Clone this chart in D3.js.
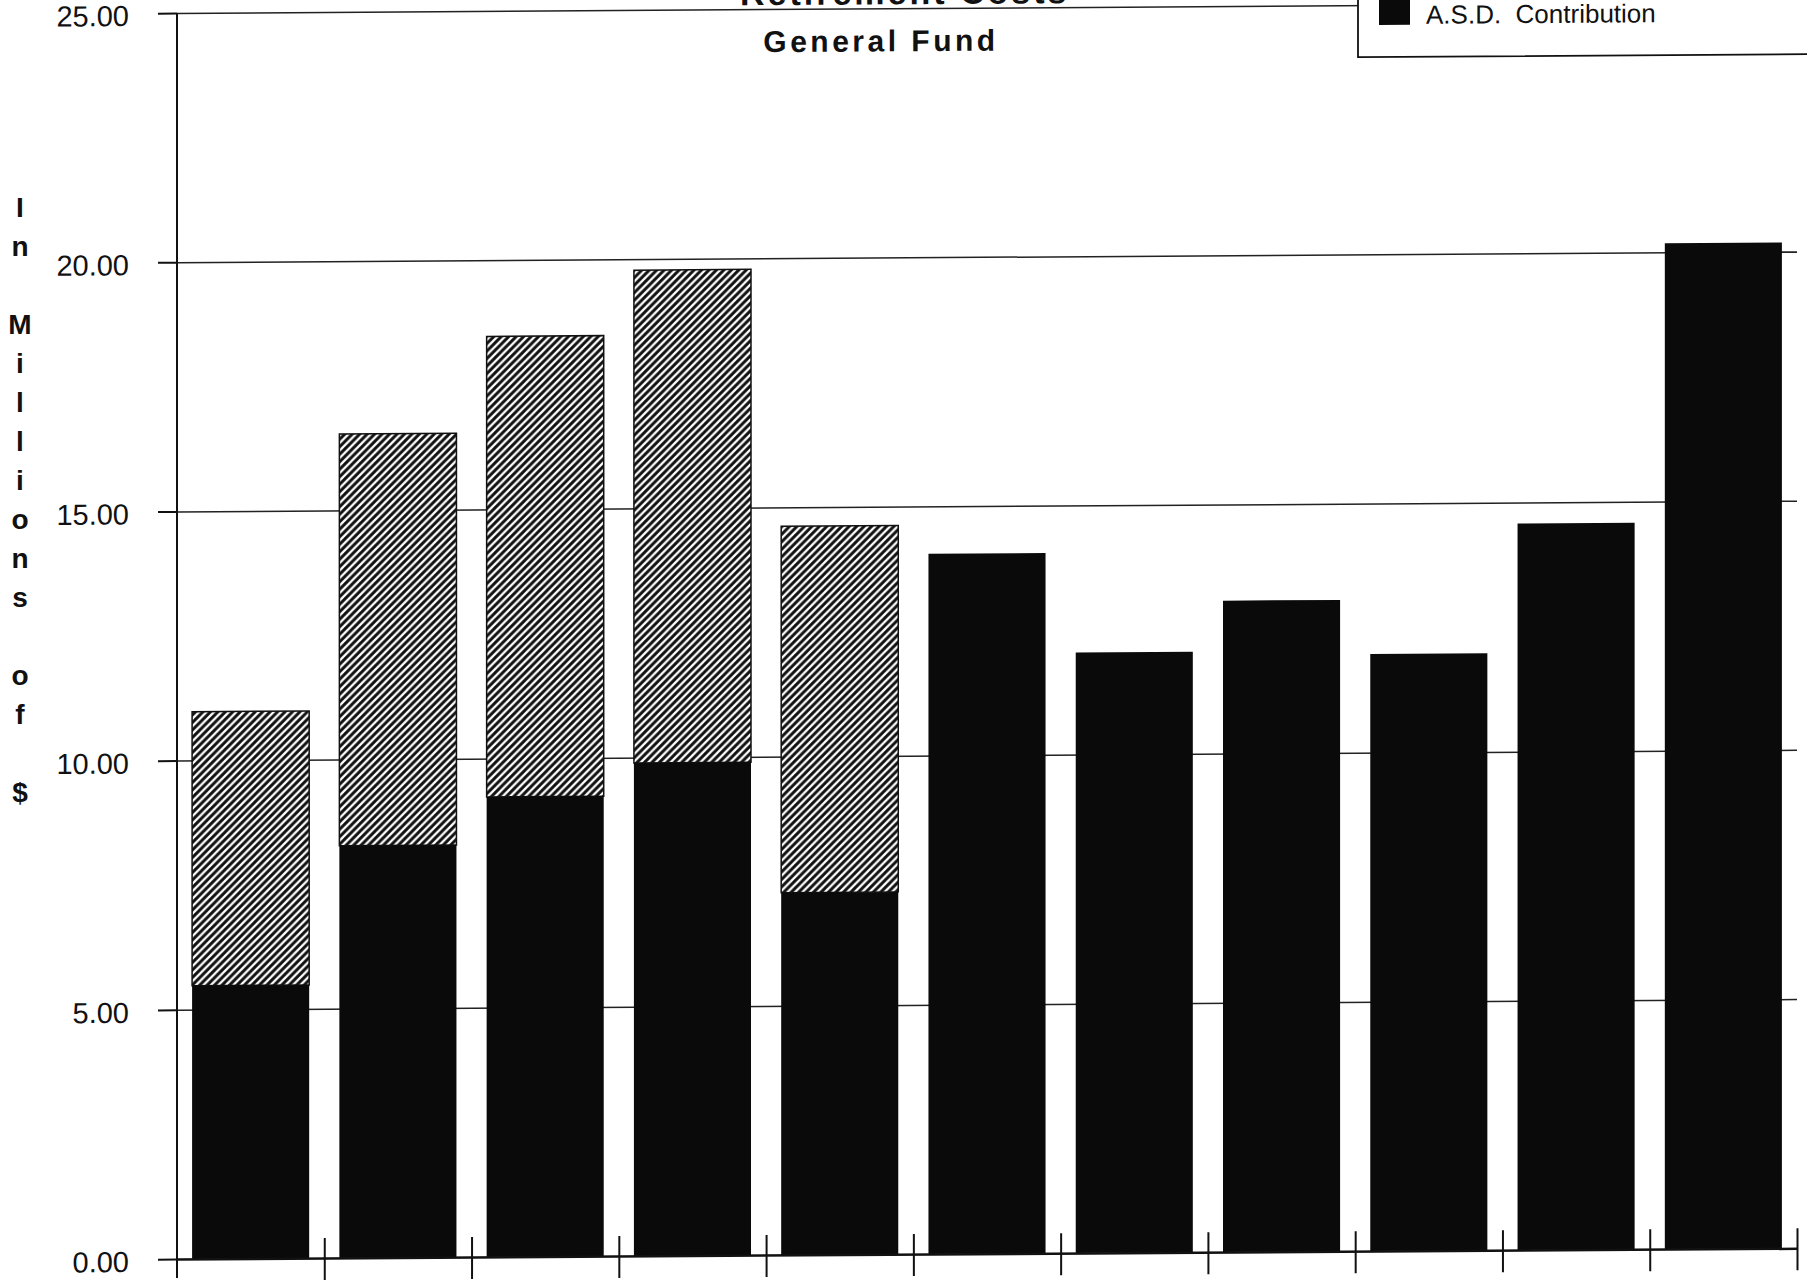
<!DOCTYPE html>
<html lang="en">
<head>
    <meta charset="UTF-8">
    <title>Retirement - General Fund</title>
    <style>
        body { margin: 0; background: #fff; }
        text { font-family: "Liberation Sans", Arial, Helvetica, sans-serif; fill: #111; }
    </style>
</head>
<body>
    <svg id="graph" width="1807" height="1284"></svg>

    <script src="https://cdn.jsdelivr.net/npm/d3@7"></script>
    <script>
        // one bar per year, the x axis has no labels in the original
        const categories = ["1", "2", "3", "4", "5", "6", "7", "8", "9", "10", "11"];
        // in millions of $
        const asdContribution = [5.48, 8.27, 9.23, 9.89, 7.27, 14.05, 12.05, 13.07, 11.98, 14.58, 20.18];
        const otherContribution = [5.50, 8.26, 9.24, 9.89, 7.35, 0, 0, 0, 0, 0, 0];
        const yTicks = [0, 5, 10, 15, 20, 25];
        const yLabel = "In Millions of $";

        const plotLeft = 177;
        const plotRight = 1797;
        const plotBottom = 1259;
        const plotTop = 13;

        const svg = d3.select("#graph");

        // hatch pattern for the upper part of the stacked bars
        const hatch = svg.append("defs").append("pattern")
            .attr("id", "hatch")
            .attr("patternUnits", "userSpaceOnUse")
            .attr("width", 7.5)
            .attr("height", 7.5);
        hatch.append("rect")
            .attr("width", 7.5).attr("height", 7.5)
            .attr("fill", "#fff");
        hatch.append("path")
            .attr("d", "M-1,1 l2,-2 M0,7.5 l7.5,-7.5 M6.5,8.5 l2,-2")
            .attr("stroke", "#111")
            .attr("stroke-width", 3);

        // the scan is a little crooked, so the whole plot leans a bit
        const chart = svg.append("g")
            .attr("transform", `translate(${plotLeft},0) skewY(-0.38) translate(${-plotLeft},0)`);

        const xScale = d3.scaleBand()
            .domain(categories)
            .range([plotLeft, plotRight])
            .paddingInner(0.205)
            .paddingOuter(0.1025);

        const yScale = d3.scaleLinear()
            .domain([0, 25])
            .range([plotBottom, plotTop]);

        // gridlines
        chart.append("g")
            .attr("transform", `translate(${plotLeft},0)`)
            .call(d3.axisLeft(yScale).tickValues(yTicks.slice(1)).tickSize(-(plotRight - plotLeft)).tickFormat(""))
            .call(g => g.select(".domain").remove())
            .call(g => g.selectAll("line").attr("stroke", "#222").attr("stroke-width", 1.5));

        // y axis with ticks outside
        chart.append("g")
            .attr("transform", `translate(${plotLeft},0)`)
            .call(d3.axisLeft(yScale).tickValues(yTicks).tickSize(19).tickPadding(29).tickFormat(d3.format(".2f")))
            .call(g => g.select(".domain").remove())
            .call(g => g.selectAll("line").attr("stroke", "#111").attr("stroke-width", 2))
            .call(g => g.selectAll("text")
                .attr("dy", "0.42em")
                .attr("font-size", 29)
                .attr("font-family", "Liberation Sans, Arial, sans-serif")
                .attr("fill", "#111"));

        chart.append("line")
            .attr("x1", plotLeft).attr("x2", plotLeft)
            .attr("y1", yScale(25)).attr("y2", plotBottom + 19)
            .attr("stroke", "#111").attr("stroke-width", 2);

        // bars: A.S.D. part in black, the rest hatched on top
        const bars = chart.selectAll(".bar")
            .data(categories)
            .enter()
            .append("g")
            .attr("class", "bar");

        bars.filter((d, i) => otherContribution[i] > 0)
            .append("rect")
            .attr("x", d => xScale(d))
            .attr("y", d => yScale(asdContribution[categories.indexOf(d)] + otherContribution[categories.indexOf(d)]))
            .attr("width", xScale.bandwidth())
            .attr("height", d => {
                const i = categories.indexOf(d);
                return yScale(asdContribution[i]) - yScale(asdContribution[i] + otherContribution[i]);
            })
            .attr("fill", "url(#hatch)")
            .attr("stroke", "#111")
            .attr("stroke-width", 1.5);

        bars.append("rect")
            .attr("x", d => xScale(d))
            .attr("y", (d, i) => yScale(asdContribution[i]))
            .attr("width", xScale.bandwidth())
            .attr("height", (d, i) => plotBottom - yScale(asdContribution[i]))
            .attr("fill", "#0a0a0a");

        // x axis: ticks sit between the bars and cross the baseline
        const xEdges = d3.scaleLinear().domain([0, categories.length]).range([plotLeft, plotRight]);
        chart.append("g")
            .attr("transform", `translate(0,${plotBottom})`)
            .call(d3.axisBottom(xEdges).tickValues(d3.range(1, categories.length + 1)).tickSize(22).tickSizeOuter(0).tickFormat(""))
            .call(g => g.select(".domain").attr("stroke", "#111").attr("stroke-width", 2.5))
            .call(g => g.selectAll("line").attr("y1", -20).attr("stroke", "#111").attr("stroke-width", 2));

        // titles (the first line is cut off by the top edge in the original)
        chart.append("text")
            .attr("x", 740)
            .attr("y", 9)
            .attr("font-size", 34)
            .attr("font-weight", "bold")
            .attr("letter-spacing", 3)
            .text("Retirement Costs");

        chart.append("text")
            .attr("x", 881)
            .attr("y", 56)
            .attr("text-anchor", "middle")
            .attr("font-size", 30)
            .attr("font-weight", "bold")
            .attr("letter-spacing", 3.5)
            .text("General Fund");

        // legend, partly cut off by the top edge
        const legend = chart.append("g");
        legend.append("rect")
            .attr("x", 1358).attr("y", -60)
            .attr("width", 470).attr("height", 125)
            .attr("fill", "#fff")
            .attr("stroke", "#111").attr("stroke-width", 1.8);
        legend.append("rect")
            .attr("x", 1379).attr("y", 2)
            .attr("width", 31).attr("height", 31)
            .attr("fill", "#0a0a0a");
        legend.append("text")
            .attr("x", 1426).attr("y", 32)
            .attr("font-size", 26)
            .style("white-space", "pre")
            .text("A.S.D.  Contribution");

        // vertical y axis title, one letter per line
        svg.append("g")
            .selectAll("text")
            .data(yLabel.split("").map((c, i) => ({ c, i })).filter(d => d.c !== " "))
            .enter()
            .append("text")
            .attr("x", 20)
            .attr("y", d => 207 + d.i * 39)
            .attr("text-anchor", "middle")
            .attr("dominant-baseline", "central")
            .attr("font-size", 28)
            .attr("font-weight", "bold")
            .text(d => d.c);
    </script>
</body>
</html>
